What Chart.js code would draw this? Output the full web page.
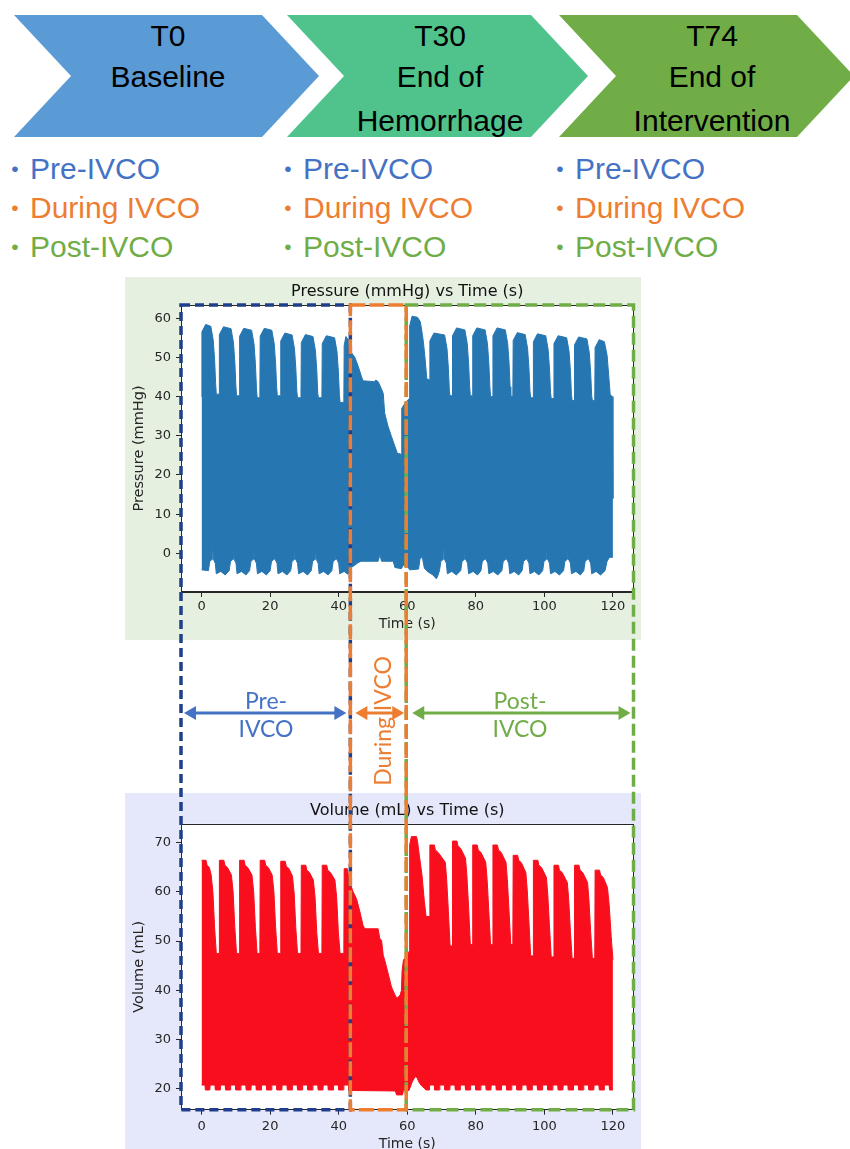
<!DOCTYPE html>
<html><head><meta charset="utf-8"><title>IVCO phases</title>
<script src="https://cdn.jsdelivr.net/npm/chart.js@4.4.1/dist/chart.umd.min.js"></script>
<style>
html,body{margin:0;padding:0;background:#fff;}
body{width:850px;height:1149px;position:relative;overflow:hidden;}
#chev{position:absolute;left:0;top:0;}
.bl{position:absolute;font-family:"Liberation Sans",Arial,sans-serif;font-size:30px;height:34px;line-height:34px;white-space:nowrap;display:flex;align-items:center;}
.bl .dot{display:inline-block;width:18px;text-align:center;font-size:21px;margin-right:6px;}
.panel{position:absolute;}
canvas.chart{position:absolute;z-index:2;}
#overlay{position:absolute;left:0;top:0;z-index:5;}
.mid{position:absolute;font-family:Lato,"Open Sans",sans-serif;font-size:23px;line-height:28px;text-align:center;white-space:nowrap;z-index:6;}
</style></head><body>
<svg id="chev" width="850" height="145" viewBox="0 0 850 145">
  <polygon points="14,15 262,15 319,76 262,137 14,137 71,76" fill="#5B9BD5"/>
  <polygon points="287,15 531,15 588,76 531,137 287,137 344,76" fill="#50C38D"/>
  <polygon points="559,15 797,15 854,76 797,137 559,137 616,76" fill="#70AD47"/>
  <g font-family="Liberation Sans, Arial, sans-serif" font-size="30" text-anchor="middle" fill="#000">
    <text x="168" y="35" dominant-baseline="central">T0</text>
    <text x="168" y="76" dominant-baseline="central">Baseline</text>
    <text x="440" y="35" dominant-baseline="central">T30</text>
    <text x="440" y="76" dominant-baseline="central">End of</text>
    <text x="440" y="120" dominant-baseline="central">Hemorrhage</text>
    <text x="712" y="35" dominant-baseline="central">T74</text>
    <text x="712" y="76" dominant-baseline="central">End of</text>
    <text x="712" y="120" dominant-baseline="central">Intervention</text>
  </g>
</svg>

<div class="bl" style="left:6px;top:152px;color:#4472C4"><span class="dot">•</span>Pre-IVCO</div>
<div class="bl" style="left:6px;top:191px;color:#ED7D31"><span class="dot">•</span>During IVCO</div>
<div class="bl" style="left:6px;top:230px;color:#70AD47"><span class="dot">•</span>Post-IVCO</div>
<div class="bl" style="left:279px;top:152px;color:#4472C4"><span class="dot">•</span>Pre-IVCO</div>
<div class="bl" style="left:279px;top:191px;color:#ED7D31"><span class="dot">•</span>During IVCO</div>
<div class="bl" style="left:279px;top:230px;color:#70AD47"><span class="dot">•</span>Post-IVCO</div>
<div class="bl" style="left:551px;top:152px;color:#4472C4"><span class="dot">•</span>Pre-IVCO</div>
<div class="bl" style="left:551px;top:191px;color:#ED7D31"><span class="dot">•</span>During IVCO</div>
<div class="bl" style="left:551px;top:230px;color:#70AD47"><span class="dot">•</span>Post-IVCO</div>

<div class="panel" style="left:125px;top:277px;width:516px;height:363px;background:#E6F0E1"></div>
<div class="panel" style="left:125px;top:793px;width:516px;height:356px;background:#E5E7FA"></div>
<canvas id="pressure" class="chart" width="516" height="363" style="left:125px;top:277px;width:516px;height:363px"></canvas>
<canvas id="volume" class="chart" width="516" height="356" style="left:125px;top:793px;width:516px;height:356px"></canvas>
<canvas id="overlay" width="850" height="1149"></canvas>

<div class="mid" style="left:216px;top:686px;width:100px;color:#4472C4">Pre-<br>IVCO</div>
<div class="mid" style="left:470px;top:686px;width:100px;color:#70AD47">Post-<br>IVCO</div>
<div class="mid" style="left:302px;top:707px;width:160px;height:28px;color:#ED7D31;transform:rotate(-90deg);transform-origin:80px 14px">During IVCO</div>

<script>
// ---- tick labels ----
const timeTicks = [0, 20, 40, 60, 80, 100, 120];
const pressureTicks = [0, 10, 20, 30, 40, 50, 60];
const volumeTicks = [20, 30, 40, 50, 60, 70];
// ---- IVCO phase boundaries (s) ----
const ivcoStart = 43.4;
const ivcoEnd = 59.7;

// ---- pressure (mmHg): upper and lower envelope of the beat-to-beat signal, [time s, value] ----
const pressureUpper = [
[0,40],[0.1,56.5],[1.2,58.4],[2.7,57.9],[3.4,54.4],[3.8,49.4],[4.1,43.4],[4.3,40.6],[5.1,40.6],
[5.2,55.8],[6.4,57.8],[8.6,57.3],[9.3,53.8],[9.7,48.8],[10.0,42.8],[10.2,40.2],[11.0,40.2],
[11.1,55.4],[12.3,57.4],[14.6,56.9],[15.3,53.4],[15.7,48.4],[16.0,42.4],[16.2,39.7],[17.0,39.7],
[17.1,55.4],[18.3,57.4],[20.5,56.9],[21.2,53.4],[21.6,48.4],[21.9,42.4],[22.1,40.2],[23.0,40.2],
[23.1,54.2],[24.3,56.2],[26.4,55.7],[27.1,52.2],[27.5,47.2],[27.8,41.2],[28.0,39.7],[29.0,39.7],
[29.1,53.8],[30.3,55.8],[32.5,55.3],[33.2,51.8],[33.6,46.8],[33.9,40.8],[34.1,39.7],[35.1,39.7],
[35.2,53.5],[36.4,55.5],[38.8,55.0],[39.5,51.5],[39.9,46.5],[40.2,40.5],[40.4,38.5],[41.5,38.5],
[41.6,53.0],[42.1,55.3],[42.8,54.5],[43.2,52.0],[43.7,51.2],[44.7,50.0],[45.7,47.7],[46.6,45.2],[47.1,44.0],[50.5,43.8],[50.8,44.2],[51.5,43.8],[52.0,42.9],[53.0,40.8],[53.4,35.8],[54.4,32.4],[55.4,29.8],[56.4,27.3],[57.1,25.6],[57.3,23.0],[57.5,25.4],[57.9,25.4],[58.1,23.0],[58.3,25.0],[58.4,37.0],[59.5,38.5],[60.6,39.5],
[60.7,58.0],[61.4,60.5],[63.0,60.2],[63.8,59.1],[64.2,57.0],[64.7,54.0],[65.2,49.7],[65.7,44.5],[66.5,44.3],
[66.6,54.2],[67.8,56.2],[70.9,55.7],[71.6,52.2],[72.0,47.2],[72.3,41.2],[72.5,40.2],[73.1,40.2],
[73.2,55.5],[74.4,57.5],[76.8,57.0],[77.5,53.5],[77.9,48.5],[78.2,42.5],[78.4,40.2],[79.0,40.2],
[79.1,55.5],[80.3,57.5],[82.7,57.0],[83.4,53.5],[83.8,48.5],[84.1,42.5],[84.3,40.0],[84.9,40.0],
[85.0,55.5],[86.2,57.5],[88.6,57.0],[89.3,53.5],[89.7,48.5],[90.0,42.5],[90.2,40.0],[90.8,40.0],
[90.9,54.3],[92.1,56.3],[94.4,55.8],[95.1,52.3],[95.5,47.3],[95.8,41.3],[96.0,39.7],[96.7,39.7],
[96.8,54.0],[98.0,56.0],[100.4,55.5],[101.1,52.0],[101.5,47.0],[101.8,41.0],[102.0,39.5],[102.7,39.5],
[102.8,53.5],[104.0,55.5],[106.5,55.0],[107.2,51.5],[107.6,46.5],[107.9,40.5],[108.1,39.0],[108.7,39.0],
[108.8,53.2],[110.0,55.2],[112.4,54.7],[113.1,51.2],[113.5,46.2],[113.8,40.2],[114.0,39.0],[114.7,39.0],
[114.8,52.5],[116.0,54.5],[117.5,54.0],[118.3,50.5],[118.8,45.0],[119.2,40.5],[119.8,40.0],[120.0,14.0]
];
const pressureLower = [
[0,-4.2],[2.0,-4.4],[2.4,-2.0],[3.15,-1.5],[3.3,1.3],[3.45,-1.5],[4.0,-2.5],[4.3,-5.2],[5.6,-4.6],[6.9,-5.5],
[8.05,-4.4],[8.45,-2.0],[9.2,-1.5],[9.35,1.3],[9.5,-1.5],[10.05,-2.5],[10.35,-5.2],[11.65,-4.6],[12.95,-5.5],
[14.0,-4.4],[14.4,-2.0],[15.15,-1.5],[15.3,1.3],[15.45,-1.5],[16.0,-2.5],[16.3,-5.2],[17.6,-4.6],[18.9,-5.5],
[20.0,-4.4],[20.4,-2.0],[21.15,-1.5],[21.3,1.3],[21.45,-1.5],[22.0,-2.5],[22.3,-5.2],[23.6,-4.6],[24.9,-5.5],
[26.0,-4.4],[26.4,-2.0],[27.15,-1.5],[27.3,1.3],[27.45,-1.5],[28.0,-2.5],[28.3,-5.2],[29.6,-4.6],[30.9,-5.5],
[32.0,-4.4],[32.4,-2.0],[33.15,-1.5],[33.3,1.3],[33.45,-1.5],[34.0,-2.5],[34.3,-5.2],[35.6,-4.6],[36.9,-5.5],
[38.0,-4.4],[38.4,-2.0],[39.15,-1.5],[39.3,1.3],[39.45,-1.5],[40.0,-2.5],[40.3,-5.2],[41.6,-4.6],[42.6,-5.3],
[43.2,-4.7],[43.7,-3.6],[44.7,-3.0],[45.6,-2.4],[46.5,-2.0],[51.5,-2.0],[51.8,-1.0],[52.0,-0.3],[52.2,-1.0],[52.5,-2.0],[55.9,-2.0],[56.4,-3.6],[58.3,-3.9],[58.8,-3.0],[60.2,-3.5],
[60.7,-4.2],[63.3,-4.0],[63.7,-1.5],[64.1,-0.8],[64.5,-1.5],[65.0,-3.8],[66.0,-4.7],[67.5,-5.5],[68.5,-6.5],[69.0,-5.5],
[69.4,-4.4],[69.8,-2.0],[70.55,-1.5],[70.7,1.3],[70.85,-1.5],[71.4,-2.5],[71.7,-5.2],[73.0,-4.6],[74.3,-5.5],
[75.6,-4.4],[76.0,-2.0],[76.75,-1.5],[76.9,1.3],[77.05,-1.5],[77.6,-2.5],[77.9,-5.2],[79.2,-4.6],[80.5,-5.5],
[81.5,-4.4],[81.9,-2.0],[82.65,-1.5],[82.8,1.3],[82.95,-1.5],[83.5,-2.5],[83.8,-5.2],[85.1,-4.6],[86.4,-5.5],
[87.6,-4.4],[88.0,-2.0],[88.75,-1.5],[88.9,1.3],[89.05,-1.5],[89.6,-2.5],[89.9,-5.2],[91.2,-4.6],[92.5,-5.5],
[93.5,-4.4],[93.9,-2.0],[94.65,-1.5],[94.8,1.3],[94.95,-1.5],[95.5,-2.5],[95.8,-5.2],[97.1,-4.6],[98.4,-5.5],
[99.5,-4.4],[99.9,-2.0],[100.65,-1.5],[100.8,1.3],[100.95,-1.5],[101.5,-2.5],[101.8,-5.2],[103.1,-4.6],[104.4,-5.5],
[105.6,-4.4],[106.0,-2.0],[106.75,-1.5],[106.9,1.3],[107.05,-1.5],[107.6,-2.5],[107.9,-5.2],[109.2,-4.6],[110.5,-5.5],
[111.5,-4.4],[111.9,-2.0],[112.65,-1.5],[112.8,1.3],[112.95,-1.5],[113.5,-2.5],[113.8,-5.2],[115.1,-4.6],[116.4,-5.5],
[117.7,-4.4],[118.3,-2.0],[119.0,-1.0],[120.0,-1.0]
];

// ---- volume (mL): upper and lower envelope, [time s, value] ----
const volumeUpper = [
[0,66.4],[1.3,66.4],[1.6,65.4],[2.3,64.9],[2.8,63.4],[3.3,60.0],[3.8,52.8],[4.3,47.5],[5.1,47.5],
[5.2,66.4],[6.5,66.4],[6.8,65.4],[7.6,64.9],[8.7,63.4],[9.2,60.0],[9.7,52.8],[10.2,47.5],[11.0,47.5],
[11.1,66.4],[12.4,66.4],[12.7,65.4],[13.5,64.9],[14.7,63.4],[15.2,60.0],[15.7,52.8],[16.2,47.5],[17.0,47.5],
[17.1,66.4],[18.4,66.4],[18.7,65.4],[19.5,64.9],[20.6,63.4],[21.1,60.0],[21.6,52.8],[22.1,47.5],[23.0,47.5],
[23.1,66.2],[24.4,66.2],[24.7,65.2],[25.5,64.7],[26.5,63.2],[27.0,59.8],[27.5,52.6],[28.0,47.5],[29.0,47.5],
[29.1,65.4],[30.4,65.4],[30.7,64.4],[31.5,63.9],[32.6,62.4],[33.1,59.0],[33.6,51.8],[34.1,47.5],[35.1,47.5],
[35.2,65.4],[36.5,65.4],[36.8,64.4],[37.6,63.9],[38.9,62.4],[39.4,59.0],[39.9,51.8],[40.4,47.5],[41.5,47.5],
[41.6,64.7],[42.5,64.7],[43.2,62.0],[44.2,60.0],[45.2,58.6],[46.2,55.9],[47.1,53.2],[47.6,52.5],[51.5,52.5],[52.0,50.5],[52.5,50.2],[53.0,47.1],[53.4,46.2],[54.4,43.5],[55.4,40.7],[56.4,39.1],[56.9,38.5],[57.0,34.0],[57.1,38.5],[57.9,39.0],[58.3,40.0],[58.5,44.0],[58.9,46.2],[60.0,47.0],[60.6,48.0],
[60.7,69.5],[61.2,71.2],[62.7,71.2],[63.0,70.2],[63.5,67.5],[64.3,63.4],[65.0,58.0],[65.5,55.0],[66.5,55.0],
[66.6,69.5],[67.9,69.5],[68.2,68.5],[69.0,68.0],[71.1,66.0],[71.5,62.5],[72.0,56.0],[72.5,49.0],[73.1,49.0],
[73.2,70.3],[74.5,70.3],[74.8,69.3],[75.6,68.8],[77.0,66.8],[77.4,63.3],[77.9,56.8],[78.4,49.3],[79.0,49.3],
[79.1,69.5],[80.4,69.5],[80.7,68.5],[81.5,68.0],[82.9,66.0],[83.3,62.5],[83.8,56.0],[84.3,49.3],[84.9,49.3],
[85.0,69.5],[86.3,69.5],[86.6,68.5],[87.4,68.0],[88.8,66.0],[89.2,62.5],[89.7,56.0],[90.2,49.3],[90.8,49.3],
[90.9,67.4],[92.2,67.4],[92.5,66.4],[93.3,65.9],[94.6,63.9],[95.0,60.4],[95.5,53.9],[96.0,47.0],[96.7,47.0],
[96.8,66.4],[98.1,66.4],[98.4,65.4],[99.2,64.9],[100.6,62.9],[101.0,59.4],[101.5,52.9],[102.0,46.8],[102.7,46.8],
[102.8,65.4],[104.1,65.4],[104.4,64.4],[105.2,63.9],[106.7,61.9],[107.1,58.4],[107.6,51.9],[108.1,46.5],[108.7,46.5],
[108.8,65.4],[110.1,65.4],[110.4,64.4],[111.2,63.9],[112.6,61.9],[113.0,58.4],[113.5,51.9],[114.0,46.5],[114.7,46.5],
[114.8,64.4],[116.1,64.4],[116.4,63.4],[117.2,62.9],[118.4,60.9],[118.9,57.4],[119.5,50.9],[120.0,46.2]
];
const volumeLower = [
[0,20.8],[1.0,20.8],[1.1,19.8],[2.4,19.8],[2.5,20.8],[3.9,20.8],[4.0,19.8],[5.4,19.8],[5.5,20.8],[6.9,20.8],[7.0,19.8],[8.4,19.8],
[8.5,20.8],[9.9,20.8],[10.0,19.8],[11.4,19.8],[11.5,20.8],[12.9,20.8],[13.0,19.8],[14.4,19.8],[14.5,20.8],[15.9,20.8],[16.0,19.8],[17.4,19.8],
[17.5,20.8],[18.9,20.8],[19.0,19.8],[20.4,19.8],[20.5,20.8],[21.9,20.8],[22.0,19.8],[23.4,19.8],[23.5,20.8],[24.9,20.8],[25.0,19.8],[26.4,19.8],
[26.5,20.8],[27.9,20.8],[28.0,19.8],[29.4,19.8],[29.5,20.8],[30.9,20.8],[31.0,19.8],[32.4,19.8],[32.5,20.8],[33.9,20.8],[34.0,19.8],[35.4,19.8],
[35.5,20.8],[36.9,20.8],[37.0,19.8],[38.4,19.8],[38.5,20.8],[39.9,20.8],[40.0,19.8],[41.4,19.8],[41.5,20.8],[42.9,20.8],
[43.0,19.7],[56.5,19.6],[56.9,18.8],[58.6,18.8],[58.9,19.7],[60.5,19.7],[61.5,21.5],[62.3,22.5],[62.9,22.3],[63.3,21.5],[64.0,20.8],[65.0,20.1],[65.5,19.8],[66.4,19.8],
[66.5,20.8],[67.9,20.8],[68.0,19.8],[69.4,19.8],[69.5,20.8],[70.9,20.8],[71.0,19.8],[72.4,19.8],[72.5,20.8],[73.9,20.8],[74.0,19.8],[75.4,19.8],
[75.5,20.8],[76.9,20.8],[77.0,19.8],[78.4,19.8],[78.5,20.8],[79.9,20.8],[80.0,19.8],[81.4,19.8],[81.5,20.8],[82.9,20.8],[83.0,19.8],[84.4,19.8],
[84.5,20.8],[85.9,20.8],[86.0,19.8],[87.4,19.8],[87.5,20.8],[88.9,20.8],[89.0,19.8],[90.4,19.8],[90.5,20.8],[91.9,20.8],[92.0,19.8],[93.4,19.8],
[93.5,20.8],[94.9,20.8],[95.0,19.8],[96.4,19.8],[96.5,20.8],[97.9,20.8],[98.0,19.8],[99.4,19.8],[99.5,20.8],[100.9,20.8],[101.0,19.8],[102.4,19.8],
[102.5,20.8],[103.9,20.8],[104.0,19.8],[105.4,19.8],[105.5,20.8],[106.9,20.8],[107.0,19.8],[108.4,19.8],[108.5,20.8],[109.9,20.8],[110.0,19.8],[111.4,19.8],
[111.5,20.8],[112.9,20.8],[113.0,19.8],[114.4,19.8],[114.5,20.8],[115.9,20.8],[116.0,19.8],[117.4,19.8],[117.5,20.8],[118.9,20.8],[119.0,19.8],[120.0,19.8]
];

const axisColor = '#262626';
const mplFont = '"DejaVu Sans", "Liberation Sans", sans-serif';

const panelPlugin = {
  id: 'panelTitle',
  beforeDraw(chart) {
    const a = chart.chartArea, ctx = chart.ctx;
    ctx.save(); ctx.fillStyle = '#ffffff';
    ctx.fillRect(a.left, a.top, a.right - a.left, a.bottom - a.top);
    ctx.restore();
  },
  afterDraw(chart, args, opts) {
    const a = chart.chartArea, ctx = chart.ctx;
    ctx.save();
    ctx.strokeStyle = axisColor; ctx.lineWidth = 1;
    ctx.strokeRect(Math.round(a.left) + 0.5, Math.round(a.top) + 0.5, Math.round(a.right - a.left) - 1, Math.round(a.bottom - a.top) - 1);
    ctx.font = '16px ' + mplFont; ctx.fillStyle = '#111';
    ctx.textAlign = 'center'; ctx.textBaseline = 'middle';
    ctx.fillText(opts.text, (a.left + a.right) / 2, opts.y);
    ctx.restore();
  }
};

function makeChart(id, upper, lower, color, o) {
  return new Chart(document.getElementById(id), {
    type: 'line',
    data: { datasets: [
      { data: upper, borderColor: color, backgroundColor: color, borderWidth: 1, pointRadius: 0, fill: '+1', tension: 0 },
      { data: lower, borderColor: color, backgroundColor: color, borderWidth: 1, pointRadius: 0, fill: false, tension: 0 }
    ]},
    options: {
      responsive: false, animation: false, devicePixelRatio: 1, events: [],
      layout: { padding: { top: o.padTop, right: 7.5, left: 0, bottom: 0 } },
      plugins: { legend: { display: false }, tooltip: { enabled: false }, panelTitle: { text: o.title, y: o.titleY } },
      scales: {
        x: {
          type: 'linear', min: -6, max: 126,
          afterBuildTicks: s => { s.ticks = timeTicks.map(v => ({ value: v })); },
          afterFit: s => { s.height = o.xh; },
          grid: { drawOnChartArea: false, drawTicks: true, tickLength: 5, color: axisColor, lineWidth: 1 },
          border: { display: true, color: axisColor, width: 1 },
          ticks: { font: { family: mplFont, size: 13 }, color: axisColor, padding: o.xTickPad, maxRotation: 0, autoSkip: false },
          title: { display: true, text: 'Time (s)', font: { family: mplFont, size: 14, lineHeight: 1 }, color: axisColor, padding: { top: 0, bottom: o.xTitlePad } }
        },
        y: {
          type: 'linear', min: o.ymin, max: o.ymax,
          afterBuildTicks: s => { s.ticks = o.yTicks.map(v => ({ value: v })); },
          afterFit: s => { s.width = 56; },
          grid: { drawOnChartArea: false, drawTicks: true, tickLength: 5, color: axisColor, lineWidth: 1 },
          border: { display: true, color: axisColor, width: 1 },
          ticks: { font: { family: mplFont, size: 13 }, color: axisColor, padding: 5, autoSkip: false },
          title: { display: true, text: o.yTitle, font: { family: mplFont, size: 14.5, lineHeight: 1 }, color: axisColor, padding: { top: 7.4, bottom: 0 } }
        }
      }
    },
    plugins: [panelPlugin]
  });
}

const pChart = makeChart('pressure', pressureUpper, pressureLower, '#2676B2', {
  padTop: 28, xh: 48, xTickPad: 2.2, xTitlePad: 9, ymin: -9.85, ymax: 63.35,
  yTicks: pressureTicks, yTitle: 'Pressure (mmHg)', title: 'Pressure (mmHg) vs Time (s)', titleY: 15
});
const vChart = makeChart('volume', volumeUpper, volumeLower, '#F90E1D', {
  padTop: 30.8, xh: 39.3, xTickPad: 4.2, xTitlePad: -2, ymin: 15.8, ymax: 73.8,
  yTicks: volumeTicks, yTitle: 'Volume (mL)', title: 'Volume (mL) vs Time (s)', titleY: 18
});

const phaseColors = { pre: '#1F3F8C', during: '#ED7D31', post: '#70AD47' };
const arrowColors = { pre: '#4472C4', during: '#ED7D31', post: '#70AD47' };

function box(ctx, x1, y1, x2, y2, color, dash) {
  ctx.save(); ctx.setLineDash(dash); ctx.lineWidth = 3.5; ctx.strokeStyle = color;
  ctx.strokeRect(x1, y1, x2 - x1, y2 - y1); ctx.restore();
}
function arrow(ctx, x1, x2, y, color) {
  const h = 12, w = 7;
  ctx.save(); ctx.setLineDash([]); ctx.strokeStyle = color; ctx.fillStyle = color; ctx.lineWidth = 3;
  ctx.beginPath(); ctx.moveTo(x1 + h - 1, y); ctx.lineTo(x2 - h + 1, y); ctx.stroke();
  ctx.beginPath(); ctx.moveTo(x1, y); ctx.lineTo(x1 + h, y - w); ctx.lineTo(x1 + h, y + w); ctx.closePath(); ctx.fill();
  ctx.beginPath(); ctx.moveTo(x2, y); ctx.lineTo(x2 - h, y - w); ctx.lineTo(x2 - h, y + w); ctx.closePath(); ctx.fill();
  ctx.restore();
}
function drawOverlay() {
  const ctx = document.getElementById('overlay').getContext('2d');
  const pr = document.getElementById('pressure').getBoundingClientRect();
  const vr = document.getElementById('volume').getBoundingClientRect();
  const xs = pChart.scales.x;
  const L = pr.left + pChart.chartArea.left, R = pr.left + pChart.chartArea.right;
  const A = pr.left + xs.getPixelForValue(ivcoStart), B = pr.left + xs.getPixelForValue(ivcoEnd);
  const T = pr.top + pChart.chartArea.top, Bt = vr.top + vChart.chartArea.bottom;
  box(ctx, L, T, A, Bt, phaseColors.pre, [9, 5]);
  box(ctx, B, T, R, Bt, phaseColors.post, [12, 5]);
  box(ctx, A, T, B, Bt, phaseColors.during, [15, 4]);
  const ay = 713;
  arrow(ctx, L + 3, A - 4, ay, arrowColors.pre);
  arrow(ctx, A + 5, B - 2, ay, arrowColors.during);
  arrow(ctx, B + 6, R - 3, ay, arrowColors.post);
}
drawOverlay();
</script>
</body></html>
